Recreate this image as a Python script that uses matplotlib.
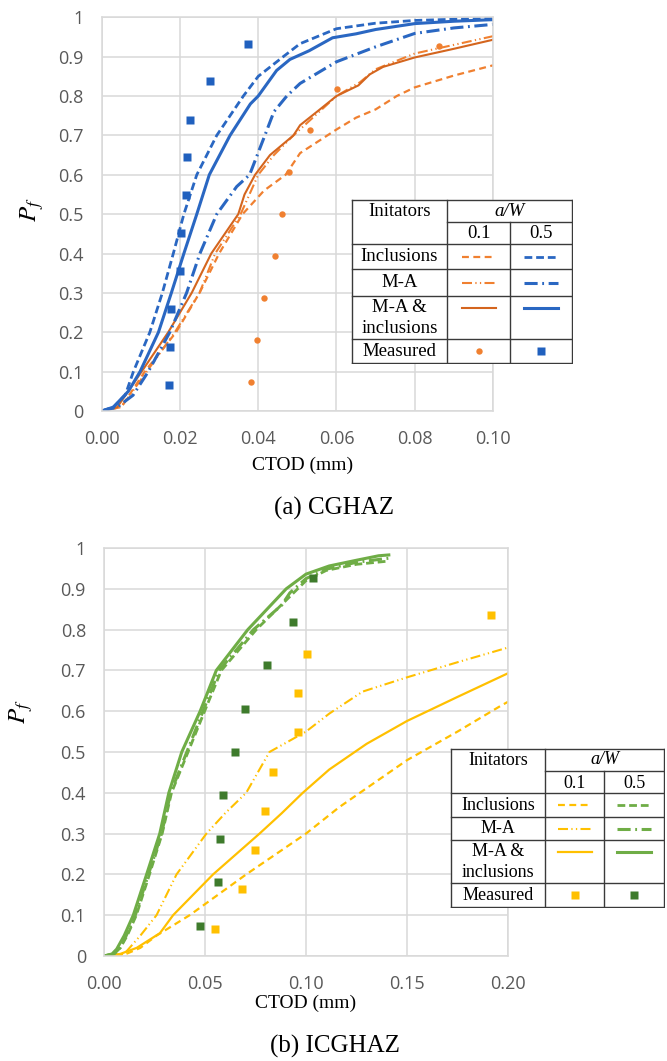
import matplotlib.pyplot as plt

plt.rcParams["font.family"] = ["Open Sans", "DejaVu Sans"]
plt.rcParams["mathtext.fontset"] = "stix"

# ---------------- (a) CGHAZ ----------------
a_incl_05_x = [0, 0.003, 0.006, 0.0081, 0.0123, 0.0155, 0.0183, 0.021, 0.0243, 0.0294, 0.0362, 0.040, 0.0464, 0.0507, 0.060, 0.070, 0.080, 0.090, 0.100]
a_incl_05_y = [0, 0.01, 0.04, 0.10, 0.20, 0.30, 0.40, 0.50, 0.60, 0.70, 0.80, 0.85, 0.90, 0.933, 0.971, 0.985, 0.992, 0.995, 0.997]

a_ma_05_x = [0, 0.004, 0.008, 0.0119, 0.0174, 0.0217, 0.0251, 0.0294, 0.0345, 0.0378, 0.0417, 0.0440, 0.0473, 0.0507, 0.060, 0.070, 0.080, 0.090, 0.100]
a_ma_05_y = [0, 0.01, 0.04, 0.10, 0.20, 0.30, 0.40, 0.50, 0.57, 0.60, 0.70, 0.76, 0.80, 0.832, 0.887, 0.925, 0.959, 0.973, 0.982]

a_both_05_x = [0, 0.003, 0.0068, 0.0098, 0.0145, 0.0178, 0.021, 0.0243, 0.0275, 0.0328, 0.038, 0.040, 0.0447, 0.0481, 0.053, 0.059, 0.065, 0.070, 0.080, 0.090, 0.100]
a_both_05_y = [0, 0.01, 0.05, 0.10, 0.20, 0.30, 0.40, 0.50, 0.60, 0.70, 0.78, 0.80, 0.865, 0.893, 0.915, 0.948, 0.958, 0.969, 0.984, 0.990, 0.994]

a_incl_01_x = [0, 0.005, 0.011, 0.019, 0.025, 0.030, 0.036, 0.0415, 0.047, 0.0507, 0.060, 0.065, 0.070, 0.0754, 0.080, 0.090, 0.100]
a_incl_01_y = [0, 0.01, 0.10, 0.20, 0.30, 0.40, 0.50, 0.56, 0.60, 0.655, 0.715, 0.745, 0.766, 0.800, 0.822, 0.852, 0.878]

a_ma_01_x = [0, 0.005, 0.0115, 0.0187, 0.025, 0.029, 0.0355, 0.040, 0.044, 0.049, 0.060, 0.066, 0.070, 0.080, 0.090, 0.100]
a_ma_01_y = [0, 0.01, 0.10, 0.20, 0.30, 0.40, 0.50, 0.60, 0.65, 0.70, 0.80, 0.835, 0.868, 0.908, 0.930, 0.952]

a_both_01_x = [0, 0.004, 0.0102, 0.017, 0.023, 0.028, 0.0349, 0.0365, 0.0392, 0.043, 0.049, 0.0507, 0.055, 0.060, 0.0656, 0.0685, 0.0719, 0.080, 0.090, 0.100]
a_both_01_y = [0, 0.01, 0.10, 0.20, 0.30, 0.40, 0.50, 0.55, 0.60, 0.65, 0.70, 0.726, 0.76, 0.80, 0.827, 0.855, 0.874, 0.898, 0.920, 0.943]

a_meas_01_x = [0.0381, 0.0398, 0.0415, 0.0443, 0.0460, 0.0479, 0.0533, 0.0601, 0.0862]
a_meas_01_y = [0.074, 0.181, 0.287, 0.394, 0.500, 0.606, 0.713, 0.819, 0.926]
a_meas_05_x = [0.0172, 0.0174, 0.0178, 0.0199, 0.0203, 0.0216, 0.0219, 0.0226, 0.0277, 0.0374]
a_meas_05_y = [0.067, 0.163, 0.260, 0.356, 0.452, 0.548, 0.644, 0.740, 0.837, 0.933]

# ---------------- (b) ICGHAZ ----------------
b_incl_05_x = [0, 0.005, 0.008, 0.0115, 0.016, 0.0225, 0.0288, 0.0334, 0.0416, 0.0498, 0.0581, 0.0754, 0.0918, 0.100, 0.110, 0.125, 0.141]
b_incl_05_y = [0, 0.005, 0.02, 0.05, 0.10, 0.20, 0.30, 0.40, 0.50, 0.60, 0.70, 0.80, 0.88, 0.92, 0.945, 0.960, 0.968]

b_ma_05_x = [0, 0.005, 0.008, 0.011, 0.0155, 0.022, 0.0285, 0.033, 0.041, 0.049, 0.057, 0.074, 0.088, 0.092, 0.100, 0.110, 0.125, 0.141]
b_ma_05_y = [0, 0.005, 0.02, 0.05, 0.10, 0.20, 0.30, 0.40, 0.50, 0.60, 0.70, 0.80, 0.86, 0.89, 0.925, 0.948, 0.965, 0.975]

b_both_05_x = [0, 0.004, 0.0063, 0.010, 0.0145, 0.0211, 0.0276, 0.0321, 0.0385, 0.0476, 0.0556, 0.0712, 0.0902, 0.100, 0.1115, 0.125, 0.136, 0.141]
b_both_05_y = [0, 0.005, 0.017, 0.05, 0.10, 0.20, 0.30, 0.40, 0.50, 0.60, 0.70, 0.80, 0.90, 0.936, 0.956, 0.970, 0.981, 0.983]

b_incl_01_x = [0, 0.010, 0.018, 0.026, 0.0424, 0.0704, 0.100, 0.1165, 0.150, 0.175, 0.197, 0.200]
b_incl_01_y = [0, 0.003, 0.02, 0.05, 0.10, 0.20, 0.30, 0.365, 0.48, 0.55, 0.615, 0.623]

b_ma_01_x = [0, 0.010, 0.018, 0.026, 0.0359, 0.0507, 0.060, 0.0704, 0.0819, 0.100, 0.1115, 0.128, 0.150, 0.175, 0.200]
b_ma_01_y = [0, 0.005, 0.05, 0.10, 0.20, 0.30, 0.35, 0.40, 0.50, 0.55, 0.594, 0.648, 0.683, 0.72, 0.756]

b_both_01_x = [0, 0.008, 0.0162, 0.0277, 0.0342, 0.054, 0.077, 0.088, 0.0984, 0.1115, 0.130, 0.150, 0.175, 0.200]
b_both_01_y = [0, 0.005, 0.02, 0.056, 0.10, 0.20, 0.30, 0.35, 0.40, 0.457, 0.52, 0.576, 0.635, 0.693]

b_meas_01_x = [0.0551, 0.0681, 0.0750, 0.0796, 0.0836, 0.0959, 0.0962, 0.1003, 0.1918]
b_meas_01_y = [0.067, 0.163, 0.260, 0.356, 0.452, 0.548, 0.644, 0.740, 0.837]
b_meas_05_x = [0.0474, 0.0564, 0.0573, 0.0587, 0.0648, 0.0696, 0.0806, 0.0936, 0.1033]
b_meas_05_y = [0.074, 0.181, 0.287, 0.394, 0.500, 0.606, 0.713, 0.819, 0.926]

y_ticks = [0, 0.1, 0.2, 0.3, 0.4, 0.5, 0.6, 0.7, 0.8, 0.9, 1.0]
y_labels = ["0", "0.1", "0.2", "0.3", "0.4", "0.5", "0.6", "0.7", "0.8", "0.9", "1"]
a_x_ticks = [0, 0.02, 0.04, 0.06, 0.08, 0.10]
a_x_labels = ["0.00", "0.02", "0.04", "0.06", "0.08", "0.10"]
b_x_ticks = [0, 0.05, 0.10, 0.15, 0.20]
b_x_labels = ["0.00", "0.05", "0.10", "0.15", "0.20"]

blue = "#2A67C2"
orange = "#F08030"
orange_dark = "#D4651E"
yellow = "#FFC000"
green = "#6FAD46"
green_dark = "#3E7B2C"

# line styles (colour, linewidth, dashes scaled by linewidth)
st_a = {
    "incl_01": dict(color=orange, lw=1.6, dashes=[3.1, 2.0]),
    "ma_01": dict(color=orange, lw=1.5, dashes=[4.8, 1.6, 0.6, 1.6, 0.6, 1.6]),
    "both_01": dict(color=orange_dark, lw=1.5),
    "incl_05": dict(color=blue, lw=2.0, dashes=[2.8, 1.4]),
    "ma_05": dict(color=blue, lw=2.2, dashes=[4.3, 1.5, 0.6, 1.5]),
    "both_05": dict(color=blue, lw=2.2),
}
st_b = {
    "incl_01": dict(color=yellow, lw=1.6, dashes=[3.1, 2.0]),
    "ma_01": dict(color=yellow, lw=1.5, dashes=[4.8, 1.6, 0.6, 1.6, 0.6, 1.6]),
    "both_01": dict(color=yellow, lw=1.6),
    "incl_05": dict(color=green, lw=2.0, dashes=[2.8, 1.4]),
    "ma_05": dict(color=green, lw=2.2, dashes=[4.3, 1.5, 0.6, 1.5]),
    "both_05": dict(color=green, lw=2.2),
}

W, H = 667, 1061
fig = plt.figure(figsize=(6.67, 10.61), dpi=100)


def px_axes(x0, y0, x1, y1):
    return fig.add_axes([x0 / W, 1 - y1 / H, (x1 - x0) / W, (y1 - y0) / H])


def style_axes(ax, xmax, xticks, xlabels):
    ax.set_xlim(0, xmax)
    ax.set_ylim(0, 1)
    ax.set_xticks(xticks)
    ax.set_xticklabels(xlabels)
    ax.set_yticks(y_ticks)
    ax.set_yticklabels(y_labels)
    ax.grid(True, color="#D9D9D9", lw=1.1)
    ax.set_axisbelow(True)
    for s in ax.spines.values():
        s.set_color("#D9D9D9")
        s.set_linewidth(1.1)
    ax.tick_params(length=0, labelsize=13, colors="#595959")
    ax.tick_params(axis="y", pad=13)
    ax.tick_params(axis="x", pad=14)


def draw_table(cols, rows, styles, m01, m05, fs):
    c0, c1, c2, c3 = cols
    r0, rs, r1, r2, r3, r4, r5 = rows
    t = px_axes(c0 - 1, r0 - 1, c3 + 1, r5 + 1)
    t.set_xlim(c0 - 1, c3 + 1)
    t.set_ylim(r5 + 1, r0 - 1)
    t.axis("off")
    t.patch.set_visible(False)
    t.fill([c0, c3, c3, c0], [r0, r0, r5, r5], color="white", zorder=0)
    k = dict(color="#3A3A3A", lw=1.0, zorder=3)
    for y in [r0, r1, r2, r3, r4, r5]:
        t.plot([c0, c3], [y, y], **k)
    t.plot([c1, c3], [rs, rs], **k)
    for x in [c0, c1, c3]:
        t.plot([x, x], [r0, r5], **k)
    t.plot([c2, c2], [rs, r5], **k)
    tf = dict(family=["Liberation Serif", "DejaVu Serif"], fontsize=fs, ha="center", va="center")
    t.text((c0 + c1) / 2, (r0 + rs) / 2 + 1, "Initators", **tf)
    t.text((c1 + c3) / 2, (r0 + rs) / 2, "a/W", style="italic", **tf)
    t.text((c1 + c2) / 2, (rs + r1) / 2 + 1, "0.1", **tf)
    t.text((c2 + c3) / 2, (rs + r1) / 2 + 1, "0.5", **tf)
    t.text((c0 + c1) / 2, (r1 + r2) / 2, "Inclusions", **tf)
    t.text((c0 + c1) / 2, (r2 + r3) / 2, "M-A", **tf)
    t.text((c0 + c1) / 2, (r3 + r4) / 2 - 10, "M-A &", **tf)
    t.text((c0 + c1) / 2, (r3 + r4) / 2 + 11, "inclusions", **tf)
    t.text((c0 + c1) / 2, (r4 + r5) / 2, "Measured", **tf)
    half = 17
    for key, yy in [("incl", (r1 + r2) / 2), ("ma", (r2 + r3) / 2), ("both", (r3 + r4) / 2 - 10)]:
        for col, xc in [("01", (c1 + c2) / 2), ("05", (c2 + c3) / 2)]:
            t.plot([xc - half, xc + half], [yy, yy], **styles[key + "_" + col])
    t.plot([(c1 + c2) / 2], [(r4 + r5) / 2], **m01)
    t.plot([(c2 + c3) / 2], [(r4 + r5) / 2], **m05)


# ---- top panel ----
ax1 = px_axes(101.7, 17.3, 493, 411)
style_axes(ax1, 0.10, a_x_ticks, a_x_labels)
ax1.plot(a_incl_01_x, a_incl_01_y, **st_a["incl_01"])
ax1.plot(a_ma_01_x, a_ma_01_y, **st_a["ma_01"])
ax1.plot(a_both_01_x, a_both_01_y, **st_a["both_01"])
ax1.plot(a_incl_05_x, a_incl_05_y, **st_a["incl_05"])
ax1.plot(a_ma_05_x, a_ma_05_y, **st_a["ma_05"])
ax1.plot(a_both_05_x, a_both_05_y, **st_a["both_05"])
mk_a01 = dict(ls="none", marker="o", ms=4.6, color=orange, mec="none")
mk_a05 = dict(ls="none", marker="s", ms=5.2, color="#2060BE", mec="none")
ax1.plot(a_meas_01_x, a_meas_01_y, **mk_a01)
ax1.plot(a_meas_05_x, a_meas_05_y, **mk_a05)

draw_table([352, 447, 510, 572], [200, 222, 244, 269, 296, 339, 363], st_a, mk_a01, mk_a05, 13.5)

# ---- bottom panel ----
ax2 = px_axes(104, 548, 508, 956)
style_axes(ax2, 0.20, b_x_ticks, b_x_labels)
ax2.plot(b_incl_01_x, b_incl_01_y, **st_b["incl_01"])
ax2.plot(b_ma_01_x, b_ma_01_y, **st_b["ma_01"])
ax2.plot(b_both_01_x, b_both_01_y, **st_b["both_01"])
ax2.plot(b_incl_05_x, b_incl_05_y, **st_b["incl_05"])
ax2.plot(b_ma_05_x, b_ma_05_y, **st_b["ma_05"])
ax2.plot(b_both_05_x, b_both_05_y, **st_b["both_05"])
mk_b01 = dict(ls="none", marker="s", ms=5.2, color=yellow, mec="none")
mk_b05 = dict(ls="none", marker="s", ms=5.2, color=green_dark, mec="none")
ax2.plot(b_meas_01_x, b_meas_01_y, **mk_b01)
ax2.plot(b_meas_05_x, b_meas_05_y, **mk_b05)

draw_table([451, 545, 604, 664], [749, 771, 793, 817, 840, 883, 907], st_b, mk_b01, mk_b05, 13)

# ---- labels and captions ----
serif = ["Liberation Serif", "DejaVu Serif"]
fig.text(303 / W, 1 - 465 / H, "CTOD (mm)", family=serif, fontsize=14, ha="center", va="center")
fig.text(306 / W, 1 - 1003 / H, "CTOD (mm)", family=serif, fontsize=14, ha="center", va="center")
fig.text(334 / W, 1 - 508 / H, "(a) CGHAZ", family=serif, fontsize=18, ha="center", va="center")
fig.text(335 / W, 1 - 1046 / H, "(b) ICGHAZ", family=serif, fontsize=18, ha="center", va="center")
fig.text(32 / W, 1 - 210 / H, r"$P_f$", fontsize=18, rotation=90, ha="center", va="center")
fig.text(21 / W, 1 - 712 / H, r"$P_f$", fontsize=18, rotation=90, ha="center", va="center")

fig.savefig("out.png", dpi=100)
